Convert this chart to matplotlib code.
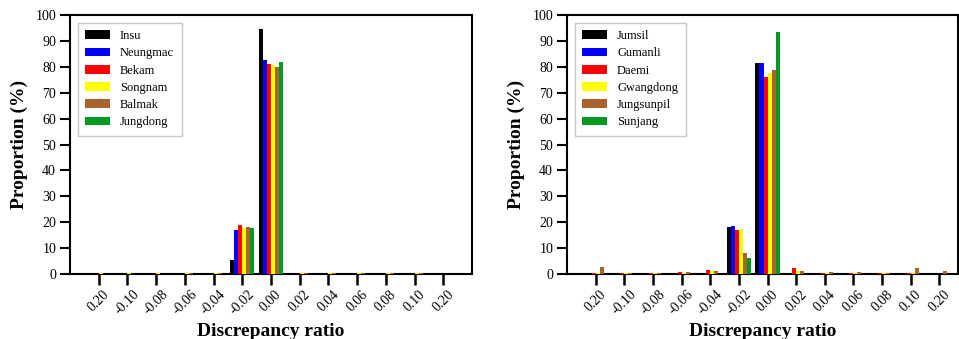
import matplotlib
matplotlib.use("Agg")
import matplotlib.pyplot as plt
import numpy as np

plt.rcParams['font.family'] = ['Liberation Serif', 'DejaVu Serif']

categories = ["0.20", "-0.10", "-0.08", "-0.06", "-0.04", "-0.02", "0.00",
              "0.02", "0.04", "0.06", "0.08", "0.10", "0.20"]

# Left panel
left_names = ["Insu", "Neungmac", "Bekam", "Songnam", "Balmak", "Jungdong"]
insu      = [0, 0, 0, 0, 0, 5.5, 94.5, 0, 0, 0, 0, 0, 0]
neungmac  = [0, 0, 0, 0, 0, 17.1, 82.6, 0, 0, 0, 0, 0, 0]
bekam     = [0, 0, 0, 0, 0, 19.0, 81.1, 0, 0, 0, 0, 0, 0]
songnam   = [0.5, 0.5, 0.5, 0.5, 0.5, 17.9, 80.7, 0.5, 0.5, 0.5, 0.5, 0.5, 0]
balmak    = [0, 0, 0, 0.5, 0.5, 18.3, 79.9, 0.5, 0.5, 0.5, 0.5, 0.5, 0]
jungdong  = [0, 0, 0, 0, 0, 17.9, 81.9, 0, 0, 0, 0, 0, 0]

# Right panel
right_names = ["Jumsil", "Gumanli", "Daemi", "Gwangdong", "Jungsunpil", "Sunjang"]
jumsil     = [0, 0, 0, 0, 0, 18.3, 81.5, 0, 0, 0, 0, 0, 0]
gumanli    = [0, 0, 0, 0, 0, 18.6, 81.5, 0, 0, 0, 0, 0, 0]
daemi      = [0.5, 0.5, 0.5, 0.9, 1.5, 17.1, 76.1, 2.3, 0.5, 0.5, 0.5, 0.5, 0]
gwangdong  = [0.5, 0.5, 0.5, 0.5, 1.3, 17.5, 77.6, 1.3, 0.5, 0.5, 0.5, 0.5, 0]
jungsunpil = [2.8, 0.5, 0.5, 0.6, 1.2, 8.2, 78.8, 1.2, 0.6, 0.6, 0.5, 2.3, 1.2]
sunjang    = [0, 0, 0, 0, 0, 6.3, 93.4, 0, 0, 0, 0, 0, 0]

colors = ["#000000", "#0000FF", "#FF0000", "#FFFF00", "#A8642C", "#009A22"]

fig = plt.figure(figsize=(9.59, 3.39), dpi=100)
W, H = 959, 339
axL = fig.add_axes([70 / W, 1 - 274 / H, (472 - 70) / W, (274 - 15) / H])
axR = fig.add_axes([567 / W, 1 - 274 / H, (958 - 567) / W, (274 - 15) / H])

x = np.arange(len(categories))
bw = 0.14


def draw(ax, names, series, xmax):
    for i, (nm, vals) in enumerate(zip(names, series)):
        ax.bar(x + (i - 2.5) * bw, vals, width=bw, color=colors[i],
               label=nm, linewidth=0, zorder=3)
    ax.set_xlim(-1, xmax)
    ax.set_ylim(0, 100)
    ax.set_yticks(np.arange(0, 101, 10))
    ax.set_xticks(x)
    ax.set_xticklabels(categories, rotation=45, fontsize=10)
    ax.tick_params(axis='y', direction='out', length=7, width=1.5, labelsize=10, pad=3)
    ax.tick_params(axis='x', direction='out', length=8, width=1.8, pad=2)
    for s in ax.spines.values():
        s.set_linewidth(1.5)
    ax.set_ylabel("Proportion (%)", fontsize=14, fontweight='bold', labelpad=5)
    ax.set_xlabel("Discrepancy ratio", fontsize=14, fontweight='bold', labelpad=4)
    leg = ax.legend(loc='upper left', fontsize=9, frameon=True, fancybox=False,
                    edgecolor='#bbbbbb', borderaxespad=0.6, labelspacing=0.42,
                    handlelength=2.0, handletextpad=0.8, borderpad=0.6)
    leg.get_frame().set_linewidth(1.0)


draw(axL, left_names, [insu, neungmac, bekam, songnam, balmak, jungdong], 13)
draw(axR, right_names, [jumsil, gumanli, daemi, gwangdong, jungsunpil, sunjang], 12.65)

fig.savefig("out.png", dpi=100)
